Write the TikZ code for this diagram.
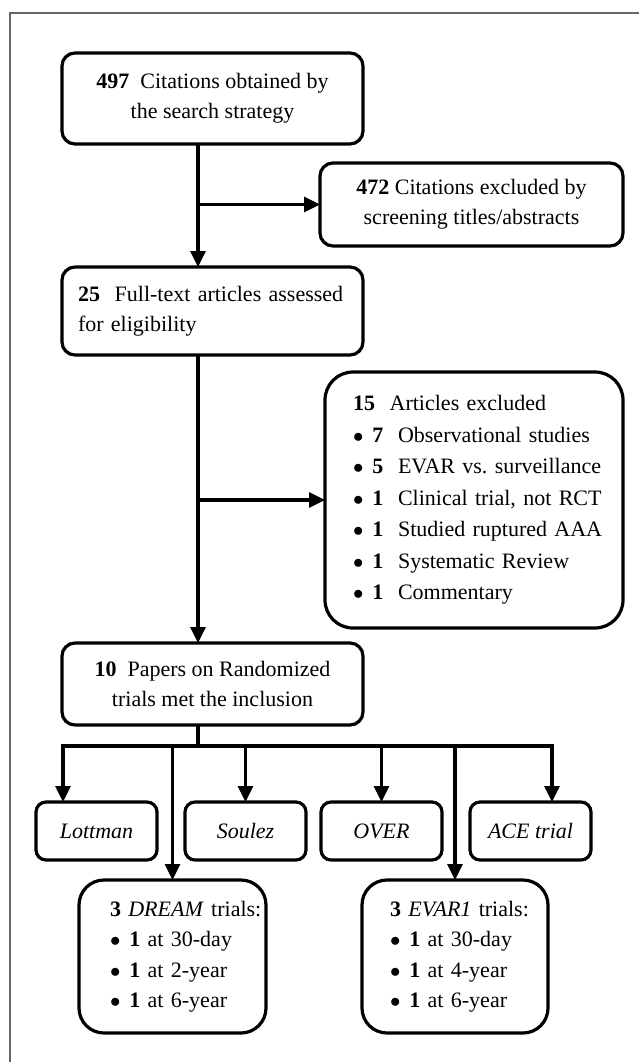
\documentclass[tikz,border=0pt]{standalone}
\usepackage{fontspec}
\setmainfont{Liberation Serif}
\usetikzlibrary{positioning,arrows.meta}
\newcommand{\bul}{$\bullet$\hspace{9pt}}

\begin{document}
\begin{tikzpicture}[
  x=1pt, y=-1pt,
  font=\fontsize{22}{30}\selectfont,
  box/.style={draw, line width=3.2pt, rounded corners=13pt, align=center, inner sep=0pt, outer sep=0pt},
  stage/.style={box, minimum width=301pt},
  lst/.style 2 args={box, align=left, text width=#1, execute at begin node={\leftskip=#2\relax}},
  trial/.style={box, rounded corners=10pt, minimum width=121pt, minimum height=58pt, font=\fontsize{22}{30}\selectfont\itshape},
  arr/.style={-{Triangle[length=16pt,width=15pt]}, line width=3.2pt},
  ln/.style={line width=3.2pt},
  frame/.style={line width=1.4pt, black!60},
]
\useasboundingbox (0,0) rectangle (639,1062);
\draw[frame] (10,1062) -- (10,13) -- (639,13);
% main column
\node[stage, minimum height=91pt] (srch) at (212.5,98.5) {\textbf{497}\ \ Citations obtained by\\the search strategy};
\node[stage, lst={301pt}{16pt}, minimum height=88pt, below=123pt of srch] (full) {\textbf{25}\ \ Full-text articles assessed\\for eligibility};
\node[stage, minimum height=82pt, below=288pt of full] (pap) {\textbf{10}\ \ Papers on Randomized\\trials met the inclusion};
% exclusions (right)
\node[box, minimum width=303pt, minimum height=83pt] (excl) at (471.5,204.5) {\textbf{472} Citations excluded by\\screening titles/abstracts};
\node[lst={298pt}{28pt}, rounded corners=28pt, minimum height=256pt, font=\fontsize{22}{31.5}\selectfont] (exart) at (474,500) {\textbf{15}\ \ Articles excluded\\
  \bul\textbf{7}\ \ Observational studies\\
  \bul\textbf{5}\ \ EVAR vs.\ surveillance\\
  \bul\textbf{1}\ \ Clinical trial, not RCT\\
  \bul\textbf{1}\ \ Studied ruptured AAA\\
  \bul\textbf{1}\ \ Systematic Review\\
  \bul\textbf{1}\ \ Commentary};
% included trials
\node[trial] (lot) at (96.5,831) {Lottman};
\node[trial, right=28pt of lot] (soul) {Soulez};
\node[trial, right=15pt of soul] (over) {OVER};
\node[trial, right=28pt of over] (ace) {ACE trial};
\node[lst={187pt}{31pt}, rounded corners=25pt, minimum height=153pt, font=\fontsize{22}{30.5}\selectfont] (dream) at (172.5,956.5) {\textbf{3} \textit{DREAM} trials:\\
  \bul\textbf{1} at 30-day\\
  \bul\textbf{1} at 2-year\\
  \bul\textbf{1} at 6-year};
\node[lst={186pt}{28pt}, rounded corners=25pt, minimum height=153pt, font=\fontsize{22}{30.5}\selectfont, right=96pt of dream] (evar) {\textbf{3} \textit{EVAR1} trials:\\
  \bul\textbf{1} at 30-day\\
  \bul\textbf{1} at 4-year\\
  \bul\textbf{1} at 6-year};
% arrows
\coordinate (tr) at (198,0);
\coordinate (bar) at (0,746);
\coordinate (lotin) at ([xshift=-33.5pt]lot.north);
\coordinate (acein) at ([xshift=21.5pt]ace.north);
\draw[arr] (srch.south -| tr) -- (full.north -| tr);
\draw[arr] (tr |- excl.west) -- (excl.west);
\draw[arr] (full.south -| tr) -- (pap.north -| tr);
\draw[arr] (tr |- exart.west) -- (exart.west);
\draw[ln] (pap.south -| tr) -- (tr |- bar);
\draw[arr] (tr |- bar) -| (lotin); \draw[arr] (tr |- bar) -| (acein);
\draw[arr] (soul.north |- bar) -- (soul.north); \draw[arr] (over.north |- bar) -- (over.north);
\draw[arr] (dream.north |- bar) -- (dream.north); \draw[arr] (evar.north |- bar) -- (evar.north);
\end{tikzpicture}
\end{document}
